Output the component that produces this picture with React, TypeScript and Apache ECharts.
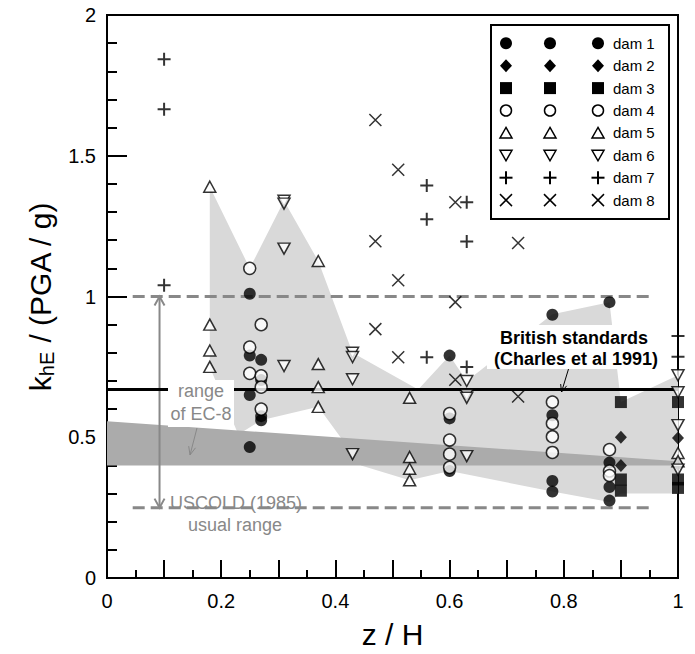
import React, { useEffect, useRef } from "react";
import * as echarts from "echarts";

// ---------- data (z/H , k_hE/(PGA/g)) ----------
const dam1: number[][] = [
  [0.25, 1.01], [0.25, 0.79], [0.25, 0.65], [0.25, 0.465],
  [0.27, 0.775], [0.27, 0.703], [0.27, 0.575], [0.27, 0.56],
  [0.6, 0.79], [0.6, 0.567], [0.6, 0.38],
  [0.78, 0.935], [0.78, 0.578], [0.78, 0.345], [0.78, 0.307],
  [0.88, 0.98], [0.88, 0.41], [0.88, 0.323], [0.88, 0.275],
];
const dam2: number[][] = [[0.9, 0.5], [0.9, 0.4], [1.0, 0.497], [1.0, 0.403]];
const dam3: number[][] = [[0.9, 0.625], [0.9, 0.35], [0.9, 0.31], [1.0, 0.625], [1.0, 0.35], [1.0, 0.32]];
const dam4: number[][] = [
  [0.25, 1.1], [0.25, 0.82], [0.25, 0.727],
  [0.27, 0.9], [0.27, 0.718], [0.27, 0.678], [0.27, 0.6],
  [0.6, 0.584], [0.6, 0.49], [0.6, 0.44], [0.6, 0.393],
  [0.78, 0.625], [0.78, 0.549], [0.78, 0.502], [0.78, 0.446],
  [0.88, 0.456], [0.88, 0.38], [0.88, 0.364],
];
const dam5: number[][] = [
  [0.18, 1.39], [0.18, 0.9], [0.18, 0.808], [0.18, 0.75],
  [0.37, 1.126], [0.37, 0.76], [0.37, 0.678], [0.37, 0.608],
  [0.53, 0.64], [0.53, 0.43], [0.53, 0.388], [0.53, 0.347],
  [1.0, 0.444], [1.0, 0.415],
];
const dam6: number[][] = [
  [0.31, 1.34], [0.31, 1.33], [0.31, 1.17], [0.31, 0.753],
  [0.43, 0.8], [0.43, 0.785], [0.43, 0.706], [0.43, 0.44],
  [0.63, 0.7], [0.63, 0.65], [0.63, 0.64], [0.63, 0.433],
  [1.0, 0.72], [1.0, 0.66], [1.0, 0.543], [1.0, 0.385],
];
const dam7: number[][] = [
  [0.1, 1.843], [0.1, 1.665], [0.1, 1.04],
  [0.56, 1.394], [0.56, 1.274], [0.56, 0.784],
  [0.63, 1.335], [0.63, 1.195], [0.63, 0.75],
  [1.0, 0.86], [1.0, 0.786],
];
const dam8: number[][] = [
  [0.47, 1.627], [0.47, 1.196], [0.47, 0.884],
  [0.51, 1.45], [0.51, 1.058], [0.51, 0.784],
  [0.61, 1.335], [0.61, 0.98], [0.61, 0.704],
  [0.72, 1.19], [0.72, 0.645],
];

// envelope of the measured values (light grey)
const envelopeZ = [0.18, 0.25, 0.31, 0.37, 0.43, 0.545, 0.6, 0.63, 0.78, 0.88, 0.9, 1.0, 1.0, 0.9, 0.88, 0.78, 0.6, 0.53, 0.445, 0.37, 0.27, 0.23, 0.18];
const envelopeK = [1.39, 1.1, 1.34, 1.126, 0.8, 0.67, 0.79, 0.7, 0.937, 0.98, 0.625, 0.72, 0.3, 0.3, 0.27, 0.307, 0.38, 0.347, 0.4, 0.608, 0.56, 0.51, 0.75];

// EC-8 range band (dark grey)
const bandZ = [0, 1];
const bandTop = [0.557, 0.415];
const bandBottom = [0.4, 0.4];

// reference lines
const britishLevel = 0.67;
const uscoldUpper = 1.0;
const uscoldLower = 0.25;
const uscoldZ = [0.045, 0.95];
const rangeArrowZ = 0.092;

// axes
const xTicks = { min: 0, max: 1, interval: 0.1, minorSplit: 2 };
const yTicks = { min: 0, max: 2, interval: 0.5, minorSplit: 5 };

const damNames = ["dam 1", "dam 2", "dam 3", "dam 4", "dam 5", "dam 6", "dam 7", "dam 8"];

const FONT = "Liberation Sans, Arial, Helvetica, sans-serif";
const GREY = "#888888";

function arrowHead(x1: number, y1: number, x2: number, y2: number, len: number, ang: number) {
  const dx = x1 - x2, dy = y1 - y2;
  const d = Math.hypot(dx, dy);
  const ux = dx / d, uy = dy / d;
  const c = Math.cos(ang), s = Math.sin(ang);
  const a = [x2 + len * (c * ux - s * uy), y2 + len * (s * ux + c * uy)];
  const b = [x2 + len * (c * ux + s * uy), y2 + len * (-s * ux + c * uy)];
  return [a, [x2, y2], b];
}

function legendSymbol(kind: string, cx: number, cy: number): any[] {
  const z = 11;
  const black = "#000";
  switch (kind) {
    case "dot":
      return [{ type: "circle", z, shape: { cx, cy, r: 6 }, style: { fill: black } }];
    case "diamond":
      return [{ type: "polygon", z, shape: { points: [[cx, cy - 6.5], [cx + 6, cy], [cx, cy + 6.5], [cx - 6, cy]] }, style: { fill: black } }];
    case "square":
      return [{ type: "rect", z, shape: { x: cx - 6, y: cy - 6, width: 12, height: 12 }, style: { fill: black } }];
    case "ring":
      return [{ type: "circle", z, shape: { cx, cy, r: 5.5 }, style: { fill: "#fff", stroke: black, lineWidth: 1.5 } }];
    case "up":
      return [{ type: "polygon", z, shape: { points: [[cx, cy - 5.5], [cx + 6, cy + 5], [cx - 6, cy + 5]] }, style: { fill: "#fff", stroke: black, lineWidth: 1.5 } }];
    case "down":
      return [{ type: "polygon", z, shape: { points: [[cx - 6, cy - 5], [cx + 6, cy - 5], [cx, cy + 5.5]] }, style: { fill: "#fff", stroke: black, lineWidth: 1.5 } }];
    case "plus":
      return [
        { type: "line", z, shape: { x1: cx - 6.5, y1: cy, x2: cx + 6.5, y2: cy }, style: { stroke: black, lineWidth: 2 } },
        { type: "line", z, shape: { x1: cx, y1: cy - 6.5, x2: cx, y2: cy + 6.5 }, style: { stroke: black, lineWidth: 2 } },
      ];
    default:
      return [
        { type: "line", z, shape: { x1: cx - 6, y1: cy - 6, x2: cx + 6, y2: cy + 6 }, style: { stroke: black, lineWidth: 1.5 } },
        { type: "line", z, shape: { x1: cx + 6, y1: cy - 6, x2: cx - 6, y2: cy + 6 }, style: { stroke: black, lineWidth: 1.5 } },
      ];
  }
}

function buildGraphic(): any[] {
  const els: any[] = [];
  els.push({ type: "rect", z: 10, shape: { x: 491, y: 25, width: 178, height: 194 }, style: { fill: "#fff", stroke: "#000", lineWidth: 2 } });
  const kinds = ["dot", "diamond", "square", "ring", "up", "down", "plus", "cross"];
  const cols = [506, 550, 598];
  kinds.forEach((k, i) => {
    const cy = 43.3 + i * 22.4;
    cols.forEach((cx) => els.push(...legendSymbol(k, cx, cy)));
    els.push({ type: "text", z: 11, x: 613, y: cy, style: { text: damNames[i], fontSize: 15, fontFamily: FONT, fill: "#000", align: "left", verticalAlign: "middle" } });
  });

  els.push({ type: "rect", z: 4, shape: { x: 168, y: 380, width: 66, height: 47 }, style: { fill: "#fff" } });
  els.push({ type: "text", z: 6, x: 201, y: 391, style: { text: "range", fontSize: 18, fontFamily: FONT, fill: GREY, align: "center", verticalAlign: "middle" } });
  els.push({ type: "text", z: 6, x: 201, y: 414, style: { text: "of EC-8", fontSize: 18, fontFamily: FONT, fill: GREY, align: "center", verticalAlign: "middle" } });
  els.push({ type: "line", z: 6, shape: { x1: 197, y1: 428, x2: 190, y2: 455 }, style: { stroke: GREY, lineWidth: 1 } });
  els.push({ type: "polyline", z: 6, shape: { points: arrowHead(197, 428, 190, 455, 9, 0.4) }, style: { stroke: GREY, lineWidth: 1, fill: null } });

  els.push({ type: "text", z: 6, x: 236, y: 503, style: { text: "USCOLD (1985)", fontSize: 18, fontFamily: FONT, fill: GREY, align: "center", verticalAlign: "middle" } });
  els.push({ type: "text", z: 6, x: 235, y: 525, style: { text: "usual range", fontSize: 18, fontFamily: FONT, fill: GREY, align: "center", verticalAlign: "middle" } });

  els.push({ type: "rect", z: 4, shape: { x: 487, y: 325, width: 178, height: 44 }, style: { fill: "#fff" } });
  els.push({ type: "text", z: 6, x: 574, y: 338, style: { text: "British standards", fontSize: 18, fontWeight: "bold", fontFamily: FONT, fill: "#000", align: "center", verticalAlign: "middle" } });
  els.push({ type: "text", z: 6, x: 576, y: 359, style: { text: "(Charles et al 1991)", fontSize: 18, fontWeight: "bold", fontFamily: FONT, fill: "#000", align: "center", verticalAlign: "middle" } });
  els.push({ type: "line", z: 6, shape: { x1: 568.5, y1: 369, x2: 561.5, y2: 392 }, style: { stroke: "#000", lineWidth: 1 } });
  els.push({ type: "polyline", z: 6, shape: { points: arrowHead(568.5, 369, 561.5, 392, 8, 0.4) }, style: { stroke: "#000", lineWidth: 1, fill: null } });
  return els;
}

const PLUS = "path://M0,5 L10,5 M5,0 L5,10";
const CROSS = "path://M0,0 L10,10 M10,0 L0,10";

function scatter(name: string, data: number[][], extra: any) {
  return { type: "scatter", name, data, z: 5, ...extra };
}

export default function App() {
  const ref = useRef<HTMLDivElement>(null);
  useEffect(() => {
    const chart = echarts.init(ref.current!, null, { renderer: "svg" });
    const openStyle = { color: "#fff", borderColor: "#000", borderWidth: 1.5 };
    const option: any = {
      animation: false,
      backgroundColor: "#fff",
      grid: { left: 107, right: 17, top: 15, bottom: 67, show: true, borderColor: "#000", borderWidth: 2, backgroundColor: "rgba(0,0,0,0)" },
      xAxis: {
        type: "value",
        min: xTicks.min, max: xTicks.max, interval: xTicks.interval,
        name: "z / H", nameLocation: "middle", nameGap: 41,
        nameTextStyle: { fontSize: 30, fontFamily: FONT, color: "#000" },
        axisLine: { show: true, lineStyle: { color: "#000", width: 2 } },
        axisTick: { show: true, inside: true, length: 18, lineStyle: { color: "#000", width: 2 } },
        minorTick: { show: true, splitNumber: xTicks.minorSplit, length: 8, lineStyle: { color: "#000", width: 2 } },
        splitLine: { show: false },
        axisLabel: {
          fontSize: 20, fontFamily: FONT, color: "#000", margin: 13,
          formatter: (v: number) => (Math.round(v * 10) % 2 === 0 ? String(Math.round(v * 10) / 10) : ""),
        },
      },
      yAxis: {
        type: "value",
        min: yTicks.min, max: yTicks.max, interval: yTicks.interval,
        name: "{k|k}{s|hE}{k| / (PGA / g)}", nameLocation: "middle", nameGap: 50, nameRotate: 90,
        nameTextStyle: {
          fontFamily: FONT, color: "#000",
          rich: {
            k: { fontSize: 30, fontFamily: FONT, color: "#000" },
            s: { fontSize: 20, fontFamily: FONT, color: "#000", padding: [14, 0, 0, 0] },
          },
        },
        axisLine: { show: true, lineStyle: { color: "#000", width: 2 } },
        axisTick: { show: true, inside: true, length: 20, lineStyle: { color: "#000", width: 2 } },
        minorTick: { show: true, splitNumber: yTicks.minorSplit, length: 10, lineStyle: { color: "#000", width: 2 } },
        splitLine: { show: false },
        axisLabel: { fontSize: 20, fontFamily: FONT, color: "#000", margin: 11, formatter: (v: number) => String(v) },
      },
      graphic: { elements: buildGraphic() },
      series: [
        {
          type: "custom", coordinateSystem: "cartesian2d", silent: true, z: 1, data: [[0, 0]],
          renderItem: (_p: any, api: any) => ({
            type: "polygon",
            shape: { points: envelopeZ.map((z, i) => api.coord([z, envelopeK[i]])) },
            style: { fill: "#d9d9d9" },
          }),
        },
        {
          type: "custom", coordinateSystem: "cartesian2d", silent: true, z: 2, data: [[0, 0]],
          renderItem: (_p: any, api: any) => ({
            type: "polygon",
            shape: {
              points: [
                ...bandZ.map((z, i) => api.coord([z, bandTop[i]])),
                ...bandZ.map((z, i) => api.coord([z, bandBottom[i]])).reverse(),
              ],
            },
            style: { fill: "#ababab" },
          }),
        },
        {
          type: "line", silent: true, z: 3, showSymbol: false, symbol: "none",
          data: [[0, britishLevel], [1, britishLevel]],
          lineStyle: { color: "#000", width: 3 },
        },
        {
          type: "line", silent: true, z: 3, showSymbol: false, symbol: "none",
          data: [[uscoldZ[0], uscoldUpper], [uscoldZ[1], uscoldUpper]],
          lineStyle: { color: GREY, width: 3, type: [12, 6] },
        },
        {
          type: "line", silent: true, z: 3, showSymbol: false, symbol: "none",
          data: [[uscoldZ[0], uscoldLower], [uscoldZ[1], uscoldLower]],
          lineStyle: { color: GREY, width: 3, type: [12, 6] },
        },
        {
          type: "custom", coordinateSystem: "cartesian2d", silent: true, z: 3, data: [[rangeArrowZ, uscoldLower]],
          renderItem: (_p: any, api: any) => {
            const top = api.coord([rangeArrowZ, uscoldUpper]);
            const bot = api.coord([rangeArrowZ, uscoldLower]);
            const st = { stroke: GREY, lineWidth: 2, fill: null };
            return {
              type: "group",
              children: [
                { type: "line", shape: { x1: top[0], y1: top[1], x2: bot[0], y2: bot[1] }, style: st },
                { type: "polyline", shape: { points: [[top[0] - 5, top[1] + 9], top, [top[0] + 5, top[1] + 9]] }, style: st },
                { type: "polyline", shape: { points: [[bot[0] - 5, bot[1] - 9], bot, [bot[0] + 5, bot[1] - 9]] }, style: st },
              ],
            };
          },
        },
        scatter("dam 1", dam1, { symbol: "circle", symbolSize: 12, itemStyle: { color: "#000" } }),
        scatter("dam 2", dam2, { symbol: "diamond", symbolSize: [12, 13], itemStyle: { color: "#000" } }),
        scatter("dam 3", dam3, { symbol: "rect", symbolSize: 12, itemStyle: { color: "#000" } }),
        scatter("dam 4", dam4, { symbol: "circle", symbolSize: 12, itemStyle: openStyle }),
        scatter("dam 5", dam5, { symbol: "triangle", symbolSize: [12, 11], itemStyle: openStyle }),
        scatter("dam 6", dam6, { symbol: "triangle", symbolRotate: 180, symbolSize: [12, 11], itemStyle: openStyle }),
        scatter("dam 7", dam7, { symbol: PLUS, symbolSize: 13, itemStyle: { color: "#000", borderColor: "#000", borderWidth: 2 } }),
        scatter("dam 8", dam8, { symbol: CROSS, symbolSize: 12, itemStyle: { color: "#000", borderColor: "#000", borderWidth: 1.5 } }),
      ],
    };
    chart.setOption(option);
    return () => chart.dispose();
  }, []);
  return <div ref={ref} style={{ position: "fixed", left: 0, top: 0, width: 695, height: 654, background: "#fff" }} />;
}
